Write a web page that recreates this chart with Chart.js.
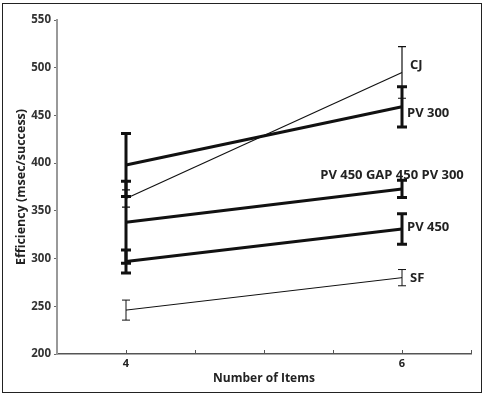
<!DOCTYPE html>
<html>
<head>
<meta charset="utf-8">
<script src="https://cdn.jsdelivr.net/npm/chart.js@4/dist/chart.umd.min.js"></script>
<style>
  html, body { margin: 0; padding: 0; background: #fff; }
  #wrap { width: 484px; height: 396px; position: relative; }
</style>
</head>
<body>
<div id="wrap"><canvas id="chart" width="484" height="396"></canvas></div>
<script>
// Data
const items = [4, 6];
const seriesNames = ["CJ", "PV 300", "PV 450 GAP 450 PV 300", "PV 450", "SF"];
const cjMean = [363, 495];
const cjErr = [9, 27];
const pv300Mean = [398, 459];
const pv300Err = [33, 21];
const gapMean = [338, 373];
const gapErr = [43, 9];
const pv450Mean = [297, 331];
const pv450Err = [12, 16];
const sfMean = [246, 280];
const sfErr = [10.5, 8.5];
const yTicks = [200, 250, 300, 350, 400, 450, 500, 550];
const xTickLabels = [4, 6];

const FONT = "'Open Sans', 'DejaVu Sans', sans-serif";
const INK = "#111";

function makeSet(name, means, errs, width, labelPos) {
  return {
    label: name,
    data: items.map((x, i) => ({ x: x, y: means[i] })),
    errors: errs,
    borderColor: INK,
    borderWidth: width,
    pointRadius: 0,
    fill: false,
    tension: 0,
    labelPos: labelPos
  };
}

// error bars, inward x ticks, series labels and frame
const extras = {
  id: "extras",
  beforeDraw(chart) {
    const ctx = chart.ctx;
    ctx.save();
    ctx.strokeStyle = "#222";
    ctx.lineWidth = 1;
    ctx.strokeRect(2.5, 3.5, 479, 389);
    ctx.restore();
  },
  afterDatasetsDraw(chart) {
    const ctx = chart.ctx;
    const xs = chart.scales.x, ys = chart.scales.y;
    ctx.save();
    chart.data.datasets.forEach(ds => {
      ctx.strokeStyle = INK;
      ctx.lineWidth = ds.borderWidth;
      ds.data.forEach((p, i) => {
        const px = xs.getPixelForValue(p.x);
        const top = ys.getPixelForValue(p.y + ds.errors[i]);
        const bot = ys.getPixelForValue(p.y - ds.errors[i]);
        const cap = ds.borderWidth > 2 ? 5 : 4;
        ctx.beginPath();
        ctx.moveTo(px, top); ctx.lineTo(px, bot);
        ctx.moveTo(px - cap, top); ctx.lineTo(px + cap, top);
        ctx.moveTo(px - cap, bot); ctx.lineTo(px + cap, bot);
        ctx.stroke();
      });
      // series label next to the right end
      const last = ds.data[ds.data.length - 1];
      const lx = xs.getPixelForValue(last.x) + ds.labelPos.dx;
      const ly = ys.getPixelForValue(last.y) + ds.labelPos.dy;
      ctx.fillStyle = "#222";
      ctx.font = "bold 13px " + FONT;
      ctx.textAlign = ds.labelPos.align;
      ctx.textBaseline = "middle";
      ctx.fillText(ds.label, lx, ly);
    });
    // x ticks point up into the plot
    ctx.strokeStyle = "#555";
    ctx.lineWidth = 1;
    for (let v = xs.min + 0.5; v <= xs.max + 0.01; v += 0.5) {
      const px = Math.round(xs.getPixelForValue(v)) + 0.5;
      ctx.beginPath();
      ctx.moveTo(px, chart.chartArea.bottom);
      ctx.lineTo(px, chart.chartArea.bottom - 4);
      ctx.stroke();
    }
    ctx.restore();
  }
};

new Chart(document.getElementById("chart"), {
  type: "line",
  data: {
    datasets: [
      makeSet(seriesNames[0], cjMean, cjErr, 1.2, { dx: 8, dy: -7, align: "left" }),
      makeSet(seriesNames[1], pv300Mean, pv300Err, 3, { dx: 5, dy: 6, align: "left" }),
      makeSet(seriesNames[2], gapMean, gapErr, 3, { dx: -10, dy: -14, align: "center" }),
      makeSet(seriesNames[3], pv450Mean, pv450Err, 3, { dx: 5, dy: -2, align: "left" }),
      makeSet(seriesNames[4], sfMean, sfErr, 1, { dx: 8, dy: 1, align: "left" })
    ]
  },
  options: {
    responsive: false,
    animation: false,
    layout: { padding: { top: 20, right: 13, left: 14, bottom: 10 } },
    plugins: {
      legend: { display: false },
      tooltip: { enabled: false }
    },
    scales: {
      x: {
        type: "linear",
        min: 3.5,
        max: 6.5,
        afterFit: s => { s.height = 32; },
        afterBuildTicks: s => { s.ticks = xTickLabels.map(v => ({ value: v })); },
        grid: { display: false, drawTicks: false },
        border: { color: "#555", width: 1.5 },
        ticks: {
          padding: 3,
          color: "#222",
          font: { family: FONT, size: 11, weight: "bold" }
        },
        title: {
          display: true,
          text: "Number of Items",
          color: "#222",
          padding: { top: 2, bottom: 0 },
          font: { family: FONT, size: 12, weight: "bold" }
        }
      },
      y: {
        min: 200,
        max: 550,
        afterFit: s => { s.width = 43; },
        afterBuildTicks: s => { s.ticks = yTicks.map(v => ({ value: v })); },
        grid: { display: true, drawOnChartArea: false, drawTicks: true, tickLength: 3, color: "#666" },
        border: { color: "#999", width: 2 },
        ticks: {
          padding: 3,
          color: "#333",
          font: { family: FONT, size: 11.5, weight: "bold" }
        },
        title: {
          display: true,
          text: "Efficiency (msec/success)",
          color: "#222",
          padding: { top: 0, bottom: 2 },
          font: { family: FONT, size: 12.5, weight: "bold" }
        }
      }
    }
  },
  plugins: [extras]
});
</script>
</body>
</html>
